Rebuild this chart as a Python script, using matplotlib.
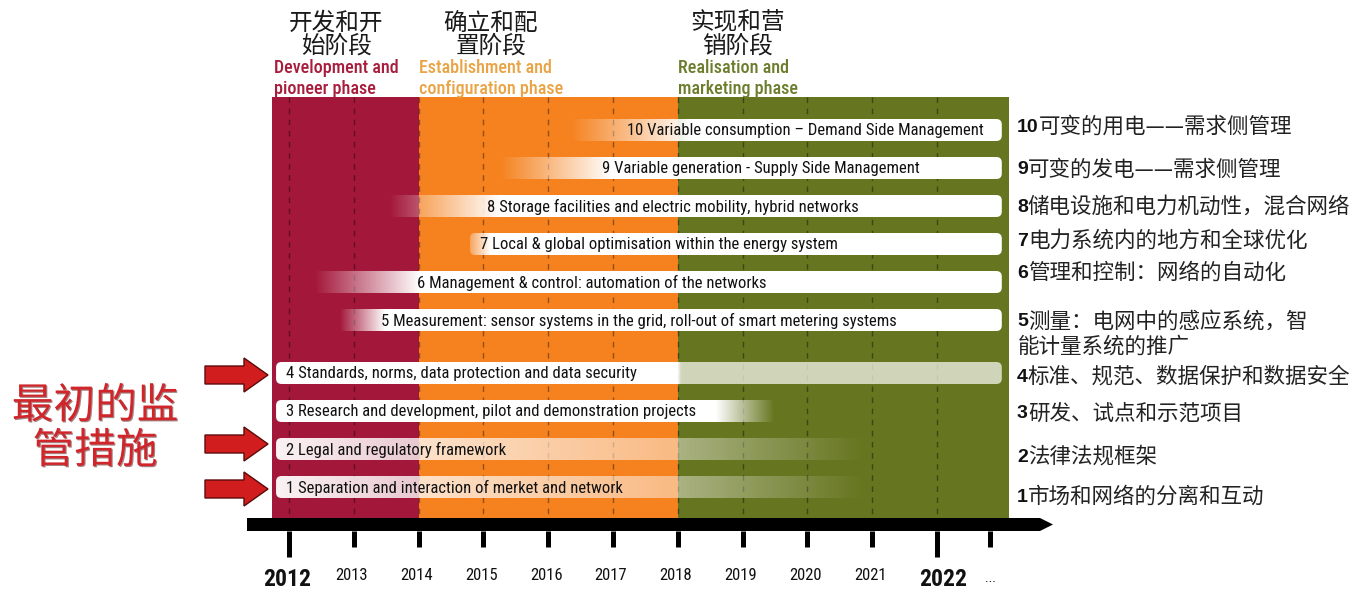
"""
Smart-grid roadmap: ten regulatory measures laid out on a 2012-2022 timeline.
"""
import numpy as np
import matplotlib
matplotlib.use('Agg')
import matplotlib.pyplot as plt
from matplotlib.patches import FancyBboxPatch, Rectangle, Polygon
import matplotlib.patheffects as pe

# ── Data ───────────────────────────────────────────
years = list(range(2012, 2023))
year_labels = [str(y) for y in years]
big_years = [2012, 2022]

phase_cn = ['开发和开\n始阶段', '确立和配\n置阶段', '实现和营\n销阶段']
phase_en = ['Development and\npioneer phase',
            'Establishment and\nconfiguration phase',
            'Realisation and\nmarketing phase']
phase_start = [2011.74, 2014.0, 2018.0]
phase_end = [2014.0, 2018.0, 2023.11]

measure_no = [1, 2, 3, 4, 5, 6, 7, 8, 9, 10]
measure_en = [
    'Separation and interaction of merket and network',
    'Legal and regulatory framework',
    'Research and development, pilot and demonstration projects',
    'Standards, norms, data protection and data security',
    'Measurement: sensor systems in the grid, roll-out of smart metering systems',
    'Management & control: automation of the networks',
    'Local & global optimisation within the energy system',
    'Storage facilities and electric mobility, hybrid networks',
    'Variable generation - Supply Side Management',
    'Variable consumption – Demand Side Management',
]
measure_cn = [
    '市场和网络的分离和互动',
    '法律法规框架',
    '研发、试点和示范项目',
    '标准、规范、数据保护和数据安全',
    '测量：电网中的感应系统，智\n能计量系统的推广',
    '管理和控制：网络的自动化',
    '电力系统内的地方和全球优化',
    '储电设施和电力机动性，混合网络',
    '可变的发电——需求侧管理',
    '可变的用电——需求侧管理',
]
# opacity profile of each measure bar along the timeline (year, alpha)
bar_stops_x = [
    [2011.8, 2013.0, 2018.0, 2020.9],
    [2011.8, 2013.0, 2018.0, 2020.9],
    [2011.8, 2018.6, 2019.5],
    [2011.8, 2018.0, 2018.05, 2023.0],
    [2012.77, 2013.47, 2023.0],
    [2012.39, 2014.01, 2023.0],
    [2014.79, 2015.10, 2023.0],
    [2013.55, 2015.25, 2023.0],
    [2015.25, 2016.95, 2023.0],
    [2016.33, 2018.19, 2023.0],
]
bar_stops_a = [
    [0.95, 0.85, 0.45, 0.0],
    [0.95, 0.85, 0.45, 0.0],
    [1.0, 1.0, 0.0],
    [1.0, 1.0, 0.7, 0.7],
    [0.0, 1.0, 1.0],
    [0.0, 1.0, 1.0],
    [0.3, 1.0, 1.0],
    [0.0, 1.0, 1.0],
    [0.0, 1.0, 1.0],
    [0.0, 1.0, 1.0],
]
label_start = [2011.95, 2011.95, 2011.95, 2011.95, 2013.42,
               2013.97, 2014.94, 2015.05, 2016.83, 2017.22]
initial_measures = [1, 2, 4]   # marked with red arrows

# ── Layout ─────────────────────────────────────────
W, H = 1366, 595
X0_PX, PX_PER_YEAR = 289, 64.8


def px2yr(px):
    return 2012 + (px - X0_PX) / PX_PER_YEAR


def row_y(n):
    return 487 - 38 * (n - 1) - (15 if n >= 5 else 0)


phase_colors = ['#a3173a', '#f5821f', '#66751f']
phase_text_colors = ['#a81c3c', '#eaa445', '#6c7e2d']
NARROW = ['Roboto Condensed', 'Roboto', 'DejaVu Sans']
CJK = ['Noto Sans CJK SC', 'DejaVu Sans']

fig = plt.figure(figsize=(W / 100, H / 100), dpi=100)
ax = fig.add_axes([0, 0, 1, 1])
ax.set_xlim(px2yr(0), px2yr(W))
ax.set_ylim(H, 0)
ax.set_autoscale_on(False)
ax.axis('off')

# phase backgrounds + dashed year lines
for s, e, c in zip(phase_start, phase_end, phase_colors):
    ax.add_patch(Rectangle((s, 97), e - s, 421, fc=c, ec='none', zorder=1))
ax.vlines(years, 97, 518, colors=(0, 0, 0, 0.4), linestyles=(0, (4, 4)),
          lw=1, zorder=2)

# phase headers
for s, cn, en, tc in zip(phase_start, phase_cn, phase_en, phase_text_colors):
    t_en = ax.text(max(s, px2yr(274)), 98, en, ha='left', va='bottom',
                   fontsize=13, family=NARROW, fontstretch='condensed',
                   fontweight='medium', color=tc, linespacing=1.2, zorder=5)
    ax.annotate(cn, xy=(0.5, 1.0), xycoords=t_en, xytext=(0, 1),
                textcoords='offset points', ha='center', va='bottom',
                fontsize=17, family=CJK, color='#1a1a1a', linespacing=1.0)

# measure bars
BAR_H = 22
for i, n in enumerate(measure_no):
    yc = row_y(n)
    xs, al = bar_stops_x[i], bar_stops_a[i]
    x0, x1 = xs[0], xs[-1]
    grid = np.linspace(x0, x1, 500)
    img = np.ones((1, grid.size, 4))
    img[0, :, 3] = np.interp(grid, xs, al)
    box = FancyBboxPatch((x0, yc - BAR_H / 2), x1 - x0, BAR_H,
                         boxstyle='round,pad=0,rounding_size=0.085',
                         mutation_aspect=PX_PER_YEAR, fc='none', ec='none',
                         zorder=3)
    ax.add_patch(box)
    im = ax.imshow(img, extent=(x0, x1, yc + BAR_H / 2, yc - BAR_H / 2),
                   aspect='auto', interpolation='bilinear', zorder=3)
    im.set_clip_path(box)
    ax.text(label_start[i], yc + 0.5, f'{n} {measure_en[i]}', ha='left',
            va='center', fontsize=12, family=NARROW, fontstretch='condensed',
            color='#111111', zorder=5)

# Chinese labels on the right
cn_dy = [10, 8, 3, 4, 2, -9, -3, 1, 2, -3]
for i, n in enumerate(measure_no):
    y = row_y(n) + cn_dy[i]
    lines = measure_cn[i].split('\n')
    t_no = ax.text(px2yr(1017), y, str(n), ha='left', va='center',
                   fontsize=14, family='Liberation Sans', fontweight='bold',
                   color='#111111')
    ax.annotate(lines[0], xy=(1.0, 0.5), xycoords=t_no, ha='left',
                va='center', fontsize=15.5, family=CJK, color='#222222')
    for k, extra in enumerate(lines[1:], start=1):
        ax.text(px2yr(1018), y + 25 * k, extra, ha='left', va='center',
                fontsize=15.5, family=CJK, color='#222222')

# red arrows for the initial regulatory measures
for n in initial_measures:
    yc = row_y(n) + (-5 if n == 2 else 2)
    pts = [(205, yc - 9), (244, yc - 9), (244, yc - 17), (268, yc),
           (244, yc + 17), (244, yc + 9), (205, yc + 9)]
    ax.add_patch(Polygon([(px2yr(px), py) for px, py in pts], closed=True,
                         fc='#d11d1d', ec='#5c0b0b', lw=1, zorder=4))

ax.text(px2yr(95), 429, '最初的监\n管措施', ha='center', va='center',
        fontsize=30, family=CJK, fontweight='light', color='#d0262b',
        linespacing=1.12,
        path_effects=[pe.withSimplePatchShadow(offset=(0.8, -0.8),
                                               shadow_rgbFace='#4a0a0a',
                                               alpha=0.5)])

# timeline axis
bar = [(247, 518), (1040, 518), (1053, 524.5), (1040, 531), (247, 531)]
ax.add_patch(Polygon([(px2yr(px), py) for px, py in bar], closed=True,
                     fc='black', ec='none', zorder=4))
for y, lab in zip(years, year_labels):
    big = y in big_years
    ax.vlines(y, 531, 557 if big else 547, colors='black', lw=3.6, zorder=4)
    ax.text(y + (0.1 if y == 2022 else -0.03), 580 if big else 576, lab,
            ha='center', va='center', fontsize=17 if big else 12,
            fontweight='bold' if big else 'normal', family=NARROW,
            fontstretch='condensed', color='#111111')
ax.vlines(px2yr(990), 531, 547, colors='black', lw=3.6, zorder=4)
ax.text(px2yr(990), 578, '...', ha='center', va='center', fontsize=10,
        family=NARROW, color='#111111')

fig.savefig('out.png', dpi=100)
plt.close(fig)
